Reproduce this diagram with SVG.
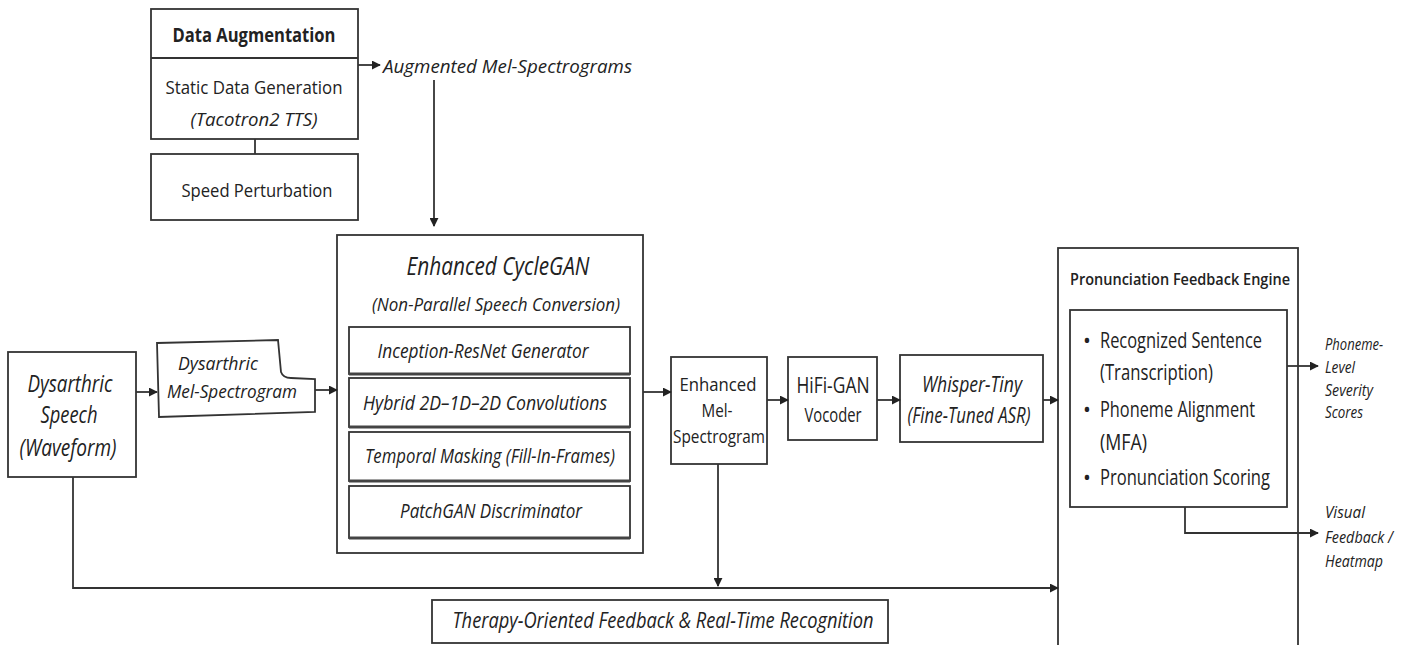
<svg xmlns="http://www.w3.org/2000/svg" width="1407" height="645" viewBox="0 0 1407 645">
<style>
  text { font-family: "Open Sans", "Liberation Sans", sans-serif; fill: #222; }
  .c { text-anchor: middle; }
  .i { font-style: italic; }
  .b { font-weight: bold; }
  .box { fill: #fff; stroke: #333; stroke-width: 1.8; }
  .ln { fill: none; stroke: #333; stroke-width: 1.8; }
  .sh { fill: none; stroke: #444; stroke-width: 3; }
</style>
<defs>
  <marker id="ah" viewBox="0 0 10 10" refX="9" refY="5" markerWidth="5" markerHeight="5" orient="auto">
    <path d="M0,0 L10,5 L0,10 Z" fill="#222"/>
  </marker>
</defs>
<rect width="1407" height="645" fill="#fff"/>

<g id="data-augmentation">
  <rect class="box" x="151" y="9" width="207" height="130"/>
  <line class="ln" x1="151" y1="58" x2="358" y2="58"/>
  <text class="c b" x="254" y="42" font-size="20" textLength="163" lengthAdjust="spacingAndGlyphs">Data Augmentation</text>
  <text class="c" x="254" y="94" font-size="19" textLength="177" lengthAdjust="spacingAndGlyphs">Static Data Generation</text>
  <text class="c i" x="254" y="126" font-size="19" textLength="127" lengthAdjust="spacingAndGlyphs">(Tacotron2 TTS)</text>
</g>
<g id="speed-perturbation">
  <rect class="box" x="151" y="154" width="207" height="66"/>
  <text class="c" x="257" y="197" font-size="19" textLength="151" lengthAdjust="spacingAndGlyphs">Speed Perturbation</text>
</g>
<g id="augmented-label">
  <text class="i" x="383" y="73" font-size="19" textLength="249" lengthAdjust="spacingAndGlyphs">Augmented Mel-Spectrograms</text>
</g>

<g id="cyclegan">
  <rect class="box" x="337" y="235" width="306" height="318"/>
  <text class="c i" x="498" y="275" font-size="26" textLength="183" lengthAdjust="spacingAndGlyphs">Enhanced CycleGAN</text>
  <text class="c i" x="496" y="311" font-size="19" textLength="248" lengthAdjust="spacingAndGlyphs">(Non-Parallel Speech Conversion)</text>
  <rect class="box" x="349" y="327" width="281" height="47"/>
  <line class="sh" x1="349" y1="374" x2="630" y2="374"/>
  <text class="c i" x="483" y="358" font-size="20" textLength="211" lengthAdjust="spacingAndGlyphs">Inception-ResNet Generator</text>
  <rect class="box" x="349" y="378" width="281" height="49"/>
  <line class="sh" x1="349" y1="427" x2="630" y2="427"/>
  <text class="c i" x="485" y="410" font-size="20" textLength="244" lengthAdjust="spacingAndGlyphs">Hybrid 2D–1D–2D Convolutions</text>
  <rect class="box" x="349" y="432" width="281" height="49"/>
  <line class="sh" x1="349" y1="481" x2="630" y2="481"/>
  <text class="c i" x="490" y="463" font-size="20" textLength="250" lengthAdjust="spacingAndGlyphs">Temporal Masking (Fill-In-Frames)</text>
  <rect class="box" x="349" y="486" width="281" height="52"/>
  <line class="sh" x1="349" y1="538" x2="630" y2="538"/>
  <text class="c i" x="491" y="518" font-size="20" textLength="182" lengthAdjust="spacingAndGlyphs">PatchGAN Discriminator</text>
</g>

<g id="dysarthric-speech">
  <rect class="box" x="8" y="352" width="128" height="125"/>
  <text class="c i" x="70" y="392" font-size="24" textLength="85" lengthAdjust="spacingAndGlyphs">Dysarthric</text>
  <text class="c i" x="69" y="423" font-size="24" textLength="57" lengthAdjust="spacingAndGlyphs">Speech</text>
  <text class="c i" x="68" y="456" font-size="24" textLength="97" lengthAdjust="spacingAndGlyphs">(Waveform)</text>
</g>

<g id="dysarthric-mel">
  <path class="box" d="M157,343 L278,340 L281,372 Q283,378 291,378 L315,379 L315,412 L159,417 Z"/>
  <text class="c i" x="218" y="370" font-size="19" textLength="80" lengthAdjust="spacingAndGlyphs">Dysarthric</text>
  <text class="c i" x="232" y="398" font-size="19" textLength="130" lengthAdjust="spacingAndGlyphs">Mel-Spectrogram</text>
</g>

<g id="enhanced-mel">
  <rect class="box" x="671" y="357" width="96" height="107"/>
  <text class="c" x="718" y="391" font-size="18" textLength="77" lengthAdjust="spacingAndGlyphs">Enhanced</text>
  <text class="c" x="717" y="417" font-size="18" textLength="31" lengthAdjust="spacingAndGlyphs">Mel-</text>
  <text class="c" x="719" y="443" font-size="18" textLength="92" lengthAdjust="spacingAndGlyphs">Spectrogram</text>
</g>

<g id="hifigan">
  <rect class="box" x="788" y="357" width="89" height="83"/>
  <text class="c" x="833" y="393" font-size="22" textLength="73" lengthAdjust="spacingAndGlyphs">HiFi-GAN</text>
  <text class="c" x="833" y="422" font-size="20" textLength="57" lengthAdjust="spacingAndGlyphs">Vocoder</text>
</g>

<g id="whisper">
  <rect class="box" x="900" y="355" width="143" height="87"/>
  <text class="c i" x="972" y="392" font-size="21" textLength="100" lengthAdjust="spacingAndGlyphs">Whisper-Tiny</text>
  <text class="c i" x="969" y="423" font-size="21" textLength="123" lengthAdjust="spacingAndGlyphs">(Fine-Tuned ASR)</text>
</g>

<g id="feedback-engine">
  <rect class="box" x="1058" y="248" width="240" height="420"/>
  <text class="c" x="1180" y="285" font-size="17" font-weight="600" textLength="220" lengthAdjust="spacingAndGlyphs">Pronunciation Feedback Engine</text>
  <rect class="box" x="1070" y="310" width="217" height="197"/>
  <text x="1083" y="348" font-size="21">•</text>
  <text x="1100" y="348" font-size="21" textLength="162" lengthAdjust="spacingAndGlyphs">Recognized Sentence</text>
  <text x="1100" y="380" font-size="21" textLength="113" lengthAdjust="spacingAndGlyphs">(Transcription)</text>
  <text x="1083" y="417" font-size="21">•</text>
  <text x="1100" y="417" font-size="21" textLength="155" lengthAdjust="spacingAndGlyphs">Phoneme Alignment</text>
  <text x="1100" y="450" font-size="21" textLength="47" lengthAdjust="spacingAndGlyphs">(MFA)</text>
  <text x="1083" y="485" font-size="21">•</text>
  <text x="1100" y="485" font-size="21" textLength="170" lengthAdjust="spacingAndGlyphs">Pronunciation Scoring</text>
</g>

<g id="severity-label">
  <text class="i" x="1325" y="350" font-size="16" textLength="58" lengthAdjust="spacingAndGlyphs">Phoneme-</text>
  <text class="i" x="1325" y="373" font-size="16" textLength="30" lengthAdjust="spacingAndGlyphs">Level</text>
  <text class="i" x="1325" y="396" font-size="16" textLength="48" lengthAdjust="spacingAndGlyphs">Severity</text>
  <text class="i" x="1325" y="418" font-size="16" textLength="38" lengthAdjust="spacingAndGlyphs">Scores</text>
</g>
<g id="visual-label">
  <text class="i" x="1325" y="518" font-size="16" textLength="40" lengthAdjust="spacingAndGlyphs">Visual</text>
  <text class="i" x="1325" y="543" font-size="16" textLength="68" lengthAdjust="spacingAndGlyphs">Feedback /</text>
  <text class="i" x="1325" y="567" font-size="16" textLength="58" lengthAdjust="spacingAndGlyphs">Heatmap</text>
</g>

<g id="therapy">
  <rect class="box" x="432" y="600" width="456" height="43"/>
  <text class="c i" x="663" y="628" font-size="22" textLength="421" lengthAdjust="spacingAndGlyphs">Therapy-Oriented Feedback &amp; Real-Time Recognition</text>
</g>

<g id="connectors">
  <line class="ln" x1="255" y1="139" x2="255" y2="154"/>
  <line class="ln" x1="358" y1="65" x2="380" y2="65" marker-end="url(#ah)"/>
  <line class="ln" x1="434" y1="80" x2="434" y2="226" marker-end="url(#ah)"/>
  <line class="ln" x1="136" y1="392" x2="157" y2="392" marker-end="url(#ah)"/>
  <line class="ln" x1="315" y1="390" x2="337" y2="390" marker-end="url(#ah)"/>
  <line class="ln" x1="643" y1="392" x2="671" y2="392" marker-end="url(#ah)"/>
  <line class="ln" x1="767" y1="400" x2="788" y2="400" marker-end="url(#ah)"/>
  <line class="ln" x1="877" y1="400" x2="900" y2="400" marker-end="url(#ah)"/>
  <line class="ln" x1="1043" y1="400" x2="1058" y2="400" marker-end="url(#ah)"/>
  <line class="ln" x1="1287" y1="366" x2="1318" y2="366" marker-end="url(#ah)"/>
  <polyline class="ln" points="1185,507 1185,533 1318,533" marker-end="url(#ah)"/>
  <polyline class="ln" points="73,477 73,588 1058,588" marker-end="url(#ah)"/>
  <line class="ln" x1="718" y1="464" x2="718" y2="586" marker-end="url(#ah)"/>
</g>
</svg>
